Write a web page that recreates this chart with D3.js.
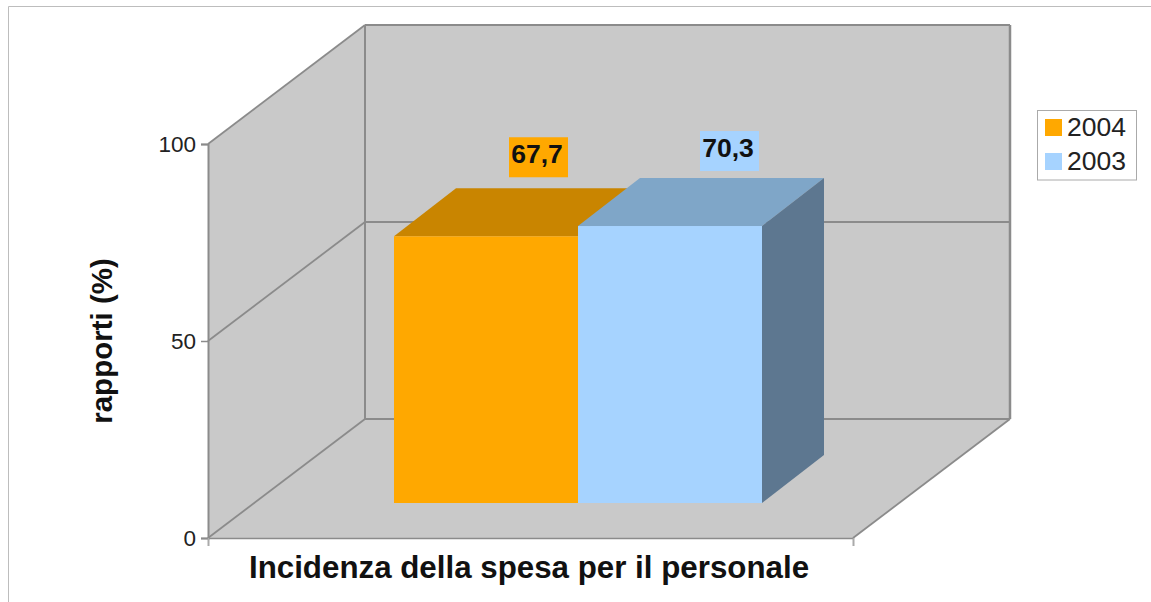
<!DOCTYPE html>
<html><head><meta charset="utf-8">
<script src="https://cdn.jsdelivr.net/npm/d3@7"></script>
<style>html,body{margin:0;padding:0;background:#fff}svg{display:block}text{font-family:"Liberation Sans",Arial,sans-serif}</style>
</head><body><svg id="c" width="1151" height="602"></svg>
<script>
const seriesNames = ["2004","2003"];
const seriesValues = [67.7,70.3];
const labelTexts = ["67,7","70,3"];
const frontColors = ["#ffa800","#a6d3ff"];
const topColors = ["#c98500","#7fa6c8"];
const sideColor = "#5d7790";
const yTicks = [0,50,100];
const categoryLabel = "Incidenza della spesa per il personale";
const yTitle = "rapporti (%)";

const svg = d3.select("#c");
const y = d3.scaleLinear().domain([0,100]).range([538,144]);
const xFront = [208,853];
const depth = {x:157,y:-119};
const barInsetY = -35;
const barDepth = {x:62,y:-48};
const labelOffset = [{x:52.5,y:-11},{x:59.5,y:-7}];
const x = d3.scaleBand().domain(seriesNames).range([394,762]);
const wall="#c9c9c9", edge="#8b8b8b";
const pts = p => p.map(q=>q.join(",")).join(" ");

// frame
svg.append("path").attr("d","M8.5,602V6.5H1151").attr("fill","none").attr("stroke","#bdbdbd").attr("stroke-width",1);

// walls
const yTop = y(100), yBot = y(0), L = xFront[0], R = xFront[1];
svg.append("polygon").attr("points",pts([[L,yBot],[L,yTop],[L+depth.x,yTop+depth.y],[L+depth.x,yBot+depth.y]])).attr("fill",wall);
svg.append("polygon").attr("points",pts([[L+depth.x,yTop+depth.y],[R+depth.x,yTop+depth.y],[R+depth.x,yBot+depth.y],[L+depth.x,yBot+depth.y]])).attr("fill",wall);
svg.append("polygon").attr("points",pts([[L,yBot],[R,yBot],[R+depth.x,yBot+depth.y],[L+depth.x,yBot+depth.y]])).attr("fill",wall);

// grid & edges
const line=(a,b,w=1.8)=>svg.append("line").attr("x1",a[0]).attr("y1",a[1]).attr("x2",b[0]).attr("y2",b[1]).attr("stroke",edge).attr("stroke-width",w);
yTicks.forEach(t=>{
  const v=y(t);
  line([L,v],[L+depth.x,v+depth.y]);
  line([L+depth.x,v+depth.y],[R+depth.x,v+depth.y]);
});
line([L+depth.x,yTop+depth.y],[L+depth.x,yBot+depth.y],2);
line([R+depth.x,yTop+depth.y],[R+depth.x,yBot+depth.y],2.5);
line([R,yBot],[R+depth.x,yBot+depth.y]);

// bars
const base = y(0)+barInsetY;
const h = v => y(0)-y(v);
seriesNames.forEach((s,i)=>{
  const x0=x(s), x1=x0+x.bandwidth(), t=base-h(seriesValues[i]);
  svg.append("polygon").attr("points",pts([[x0,t],[x0+barDepth.x,t+barDepth.y],[x1+barDepth.x,t+barDepth.y],[x1,t]])).attr("fill",topColors[i]);
});
const last=seriesNames.length-1, xr=x(seriesNames[last])+x.bandwidth(), tr=base-h(seriesValues[last]);
svg.append("polygon").attr("points",pts([[xr,tr],[xr+barDepth.x,tr+barDepth.y],[xr+barDepth.x,base+barDepth.y],[xr,base]])).attr("fill",sideColor);
seriesNames.forEach((s,i)=>{
  svg.append("rect").attr("x",x(s)).attr("y",base-h(seriesValues[i])).attr("width",x.bandwidth()).attr("height",h(seriesValues[i])).attr("fill",frontColors[i]);
});

// y axis
const ax = svg.append("g").attr("transform",`translate(${L},0)`).call(d3.axisLeft(y).tickValues(yTicks).tickSize(7).tickPadding(5).tickFormat(d3.format("d")));
ax.select(".domain").attr("stroke",edge).attr("stroke-width",2);
ax.selectAll(".tick line").attr("stroke",edge).attr("stroke-width",1.5);
ax.selectAll("text").attr("font-size",22.5).attr("fill","#222").style("font-family",'"Liberation Sans",Arial,sans-serif');

// x axis
const xa = d3.scaleLinear().domain([0,1]).range(xFront);
const bx = svg.append("g").attr("transform",`translate(0,${yBot})`).call(d3.axisBottom(xa).tickValues([0,1]).tickSize(8).tickFormat(""));
bx.select(".domain").attr("stroke",edge).attr("stroke-width",1.5);
bx.selectAll(".tick line").attr("stroke","#aaa").attr("stroke-width",1.5);

// value labels
seriesNames.forEach((s,i)=>{
  const cx=x(s)+x.bandwidth()/2+labelOffset[i].x, tY=base-h(seriesValues[i])+barDepth.y+labelOffset[i].y;
  svg.append("rect").attr("x",cx-29.5).attr("y",tY-40).attr("width",59).attr("height",40).attr("fill",frontColors[i]);
  svg.append("text").attr("x",cx-1.5).attr("y",tY-14).attr("text-anchor","middle").attr("font-size",26.5).attr("font-weight","bold").attr("fill","#111").text(labelTexts[i]);
});

// titles
svg.append("text").attr("x",529).attr("y",578).attr("text-anchor","middle").attr("font-size",31.3).attr("font-weight","bold").attr("fill","#111").text(categoryLabel);
svg.append("text").attr("transform","translate(112,341) rotate(-90)").attr("text-anchor","middle").attr("font-size",29.5).attr("font-weight","bold").attr("fill","#111").text(yTitle);

// legend
svg.append("rect").attr("x",1037.5).attr("y",110.5).attr("width",99).attr("height",69.5).attr("fill","#fff").attr("stroke","#aaa");
seriesNames.forEach((s,i)=>{
  const ly=119+i*34;
  svg.append("rect").attr("x",1045).attr("y",ly).attr("width",17).attr("height",17).attr("fill",frontColors[i]);
  svg.append("text").attr("x",1067).attr("y",ly+17).attr("font-size",26.5).attr("fill","#222").text(s);
});
</script></body></html>
